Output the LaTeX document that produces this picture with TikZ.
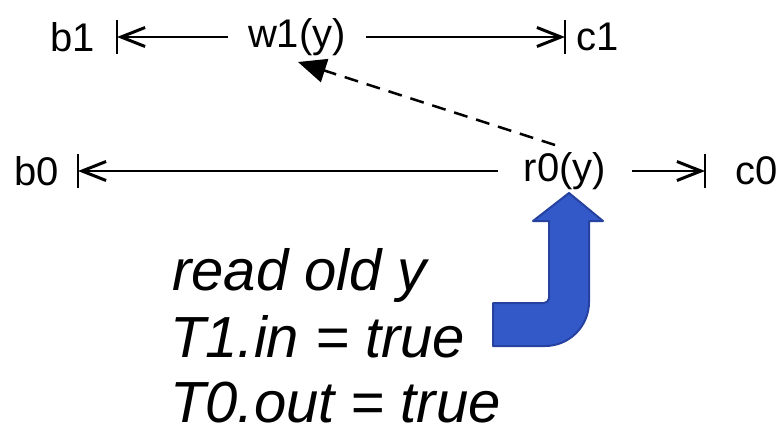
\documentclass[tikz,border=0pt]{standalone}
\usepackage{fontspec}
\setmainfont{Liberation Sans}
\usetikzlibrary{arrows.meta}
\definecolor{arrowblue}{RGB}{51,88,200}
\definecolor{arrowedge}{RGB}{38,66,160}
\begin{document}
\begin{tikzpicture}[x=1pt,y=-1pt,
  lbl/.style={inner sep=0pt, font=\fontsize{40}{48}\selectfont},
  evt/.style={inner xsep=20pt, inner ysep=0pt, font=\fontsize{40}{48}\selectfont},
  note/.style={anchor=base west, inner sep=0pt, font=\fontsize{58}{68}\selectfont\itshape},
  span/.style={line width=2.5pt, -{Straight Barb[length=24pt,width=19pt,line width=3pt]}},
  tick/.style={line width=2.5pt},
  rwdep/.style={line width=2.5pt, dash pattern=on 14pt off 9pt,
    -{Triangle[length=28pt,width=24pt]}},
  bigarrow/.style={fill=arrowblue, draw=arrowedge, line width=2pt, line join=round}]
\useasboundingbox (0,0) rectangle (783,429);

% transaction T1: write of y
\node[lbl] (b1) at (73,37) {b1};
\node[evt] (w1) at (297,37) {w1(y)};
\node[lbl] (c1) at (598,37) {c1};
\coordinate (b1t) at (117,37);
\coordinate (c1t) at (565,37);
\draw[tick] ([yshift=-17pt]b1t) -- ([yshift=17pt]b1t);
\draw[tick] ([yshift=-17pt]c1t) -- ([yshift=17pt]c1t);
\draw[span] (w1.west) -- (b1t);
\draw[span] (w1.east) -- (c1t);

% transaction T0: read of y
\node[lbl] (b0) at (37,171) {b0};
\node[evt, inner xsep=26pt] (r0) at (565,171) {r0(y)};
\node[lbl] (c0) at (757,171) {c0};
\coordinate (b0t) at (78,171);
\coordinate (c0t) at (705,171);
\draw[tick] ([yshift=-17pt]b0t) -- ([yshift=17pt]b0t);
\draw[tick] ([yshift=-17pt]c0t) -- ([yshift=17pt]c0t);
\draw[span] (r0.west) -- (b0t);
\draw[span] (r0.east) -- (c0t);

% read-old-value dependency
\coordinate (depfrom) at (555,145);
\coordinate (depto) at (298,62);
\draw[rwdep] (depfrom) -- (depto);

% bent block arrow pointing at the read
\draw[bigarrow] (569,193) -- (603,221) -- (589,221) -- (589,302)
  arc[start angle=0, end angle=90, radius=44] -- (493,346) -- (493,303)
  -- (544,303) arc[start angle=90, end angle=0, radius=5] -- (549,221)
  -- (533,221) -- cycle;

% annotation
\node[note] (n1) at (172,290) {read old y};
\node[note] (n2) at (170,357) {T1.in = true};
\node[note] (n3) at (170,422) {T0.out = true};
\end{tikzpicture}
\end{document}
